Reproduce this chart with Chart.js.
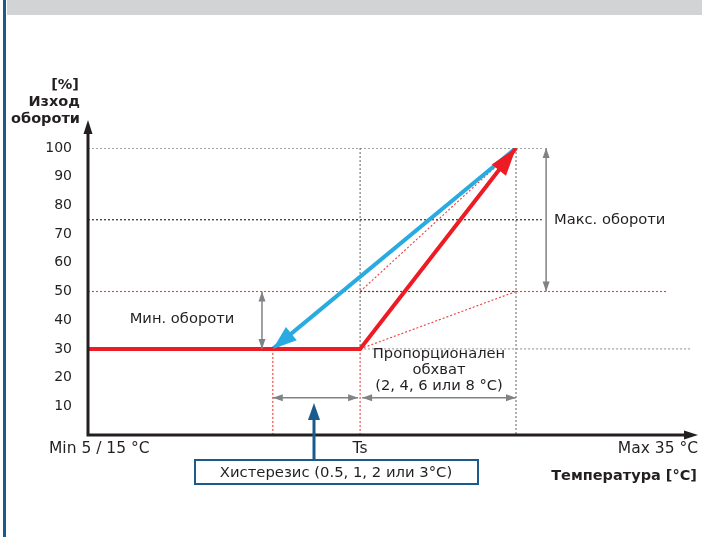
<!DOCTYPE html>
<html>
<head>
<meta charset="utf-8">
<script src="https://cdn.jsdelivr.net/npm/chart.js@4.4.1/dist/chart.umd.min.js"></script>
<style>
  html, body { margin: 0; padding: 0; background: #fff; }
  #wrap { position: relative; width: 702px; height: 537px; }
</style>
</head>
<body>
<div id="wrap"><canvas id="chart" width="702" height="537"></canvas></div>
<script>
// x positions are in "temperature position" units, 0 = Min, 100 = Max
const hystStart = 30.7;
const setpoint = 45.2;
const propEnd = 71.1;
const yTicks = [10, 20, 30, 40, 50, 60, 70, 80, 90, 100];
const speedMin = 30;
const speedMid = 50;
const speedRef = 75;
const speedMax = 100;

const risingX = [0, setpoint, propEnd];
const risingY = [speedMin, speedMin, speedMax];
const fallingX = [propEnd, hystStart];
const fallingY = [speedMax, speedMin];

const xLabels = ['Min 5 / 15 °C', 'Ts', 'Max 35 °C'];
const yTitle = ['[%]', 'Изход', 'обороти'];
const xTitle = 'Температура [°C]';
const minText = 'Мин. обороти';
const maxText = 'Макс. обороти';
const propText = ['Пропорционален', 'обхват', '(2, 4, 6 или 8 °C)'];
const hystText = 'Хистерезис (0.5, 1, 2 или 3°C)';

const pts = (xs, ys) => xs.map((x, i) => ({ x: x, y: ys[i] }));

const RED = '#ed1c24';
const BLUE = '#29abe2';
const DARK = '#231f20';
const GREY = '#808285';
const PINK = '#ef3b3b';
const FRAME = '#1b5a8c';
const FONT = '"DejaVu Sans", Verdana, sans-serif';

function guide(data, color, order) {
  return {
    data: data, showLine: true, borderColor: color, borderWidth: 1.1,
    borderDash: [2, 2], pointRadius: 0, order: order, fill: false
  };
}

const datasets = [
  { data: pts(risingX, risingY), showLine: true, borderColor: RED, borderWidth: 4,
    pointRadius: 0, order: 0, borderJoinStyle: 'miter' },
  { data: pts(fallingX, fallingY), showLine: true, borderColor: BLUE, borderWidth: 4,
    pointRadius: 0, order: 1 },
  guide([{ x: 0, y: speedMax }, { x: 75.4, y: speedMax }], '#58595b', 3),
  guide([{ x: 0, y: speedRef }, { x: 75.4, y: speedRef }], DARK, 3),
  guide([{ x: 0, y: speedMid }, { x: 96.3, y: speedMid }], PINK, 4),
  guide([{ x: setpoint, y: speedMid }, { x: propEnd, y: speedMid }], '#414042', 2),
  guide([{ x: setpoint, y: speedMin }, { x: 100.8, y: speedMin }], '#939598', 3),
  guide([{ x: setpoint, y: speedMax }, { x: setpoint, y: speedMin }], '#6d6e71', 3),
  guide([{ x: setpoint, y: speedMin }, { x: setpoint, y: 0 }], PINK, 3),
  guide([{ x: hystStart, y: speedMin }, { x: hystStart, y: 0 }], PINK, 3),
  guide([{ x: propEnd, y: speedMax }, { x: propEnd, y: 0 }], '#6d6e71', 3),
  guide([{ x: setpoint, y: speedMid }, { x: propEnd, y: speedMax }], PINK, 2),
  guide([{ x: setpoint, y: speedMin }, { x: propEnd, y: speedMid }], PINK, 2)
];

function head(ctx, x1, y1, x2, y2, len, half, color) {
  const a = Math.atan2(y2 - y1, x2 - x1);
  ctx.save();
  ctx.fillStyle = color;
  ctx.beginPath();
  ctx.moveTo(x2, y2);
  ctx.lineTo(x2 - len * Math.cos(a) + half * Math.sin(a), y2 - len * Math.sin(a) - half * Math.cos(a));
  ctx.lineTo(x2 - len * Math.cos(a) - half * Math.sin(a), y2 - len * Math.sin(a) + half * Math.cos(a));
  ctx.closePath();
  ctx.fill();
  ctx.restore();
}

function dimArrow(ctx, x1, y1, x2, y2) {
  ctx.save();
  ctx.strokeStyle = GREY;
  ctx.lineWidth = 1.5;
  ctx.beginPath();
  ctx.moveTo(x1, y1);
  ctx.lineTo(x2, y2);
  ctx.stroke();
  ctx.restore();
  head(ctx, x1, y1, x2, y2, 10, 3.5, GREY);
  head(ctx, x2, y2, x1, y1, 10, 3.5, GREY);
}

const decor = {
  id: 'decor',
  beforeDraw(chart) {
    const ctx = chart.ctx;
    ctx.save();
    ctx.fillStyle = '#d1d3d4';
    ctx.fillRect(7, 0, 695, 15);
    ctx.fillStyle = FRAME;
    ctx.fillRect(3, 0, 3, 537);
    ctx.restore();
  },
  afterDatasetsDraw(chart) {
    const ctx = chart.ctx;
    const xs = chart.scales.x, ys = chart.scales.y;
    const X = v => xs.getPixelForValue(v), Y = v => ys.getPixelForValue(v);

    // arrowheads of the curves
    head(ctx, X(fallingX[0]), Y(fallingY[0]), X(fallingX[1]), Y(fallingY[1]), 24, 8.5, BLUE);
    head(ctx, X(risingX[1]), Y(risingY[1]), X(risingX[2]), Y(risingY[2]), 28, 9, RED);

    // axes
    const x0 = X(0), y0 = Y(0);
    ctx.save();
    ctx.strokeStyle = DARK;
    ctx.lineWidth = 3;
    ctx.beginPath();
    ctx.moveTo(x0, y0);
    ctx.lineTo(x0, 130);
    ctx.moveTo(x0 - 1.5, y0);
    ctx.lineTo(688, y0);
    ctx.stroke();
    ctx.restore();
    head(ctx, x0, y0, x0, 120, 14, 4.5, DARK);
    head(ctx, x0, y0, 698, y0, 14, 4.5, DARK);

    // dimension arrows
    dimArrow(ctx, X(28.9), Y(speedMid), X(28.9), Y(speedMin));
    dimArrow(ctx, X(76.1), Y(speedMax), X(76.1), Y(speedMid));
    dimArrow(ctx, X(hystStart), Y(13), X(setpoint) - 2, Y(13));
    dimArrow(ctx, X(setpoint) + 2, Y(13), X(propEnd), Y(13));

    // texts
    ctx.save();
    ctx.fillStyle = DARK;
    ctx.textBaseline = 'middle';
    ctx.font = '14.7px ' + FONT;
    ctx.textAlign = 'center';
    ctx.fillText(minText, 182, Y(40.5));
    ctx.fillText(propText[0], 439, 354);
    ctx.fillText(propText[1], 439, 370);
    ctx.fillText(propText[2], 439, 386);
    ctx.font = '15.5px ' + FONT;
    ctx.fillText(xLabels[1], X(setpoint), 449);
    ctx.textAlign = 'left';
    ctx.fillText(xLabels[0], 49, 449);
    ctx.font = '14.7px ' + FONT;
    ctx.fillText(maxText, 554, Y(speedRef));
    ctx.font = '15.5px ' + FONT;
    ctx.textAlign = 'right';
    ctx.fillText(xLabels[2], 698, 449);
    ctx.font = 'bold 14.5px ' + FONT;
    ctx.fillText(xTitle, 697, 476);
    ctx.fillText(yTitle[0], 79, 85);
    ctx.fillText(yTitle[1], 80, 102);
    ctx.fillText(yTitle[2], 80, 119);

    // hysteresis callout
    const cx = 314;
    ctx.strokeStyle = FRAME;
    ctx.lineWidth = 3;
    ctx.beginPath();
    ctx.moveTo(cx, 460);
    ctx.lineTo(cx, 418);
    ctx.stroke();
    ctx.lineWidth = 2;
    ctx.strokeRect(195, 460, 283, 24);
    ctx.restore();
    head(ctx, cx, 460, cx, 403, 17, 6, FRAME);
    ctx.save();
    ctx.fillStyle = DARK;
    ctx.font = '14.8px ' + FONT;
    ctx.textAlign = 'center';
    ctx.textBaseline = 'middle';
    ctx.fillText(hystText, 336, 473);
    ctx.restore();
  }
};

new Chart(document.getElementById('chart'), {
  type: 'scatter',
  data: { datasets: datasets },
  options: {
    responsive: false,
    animation: false,
    layout: { padding: { top: 148, right: 12, bottom: 102, left: 0 } },
    plugins: { legend: { display: false }, tooltip: { enabled: false } },
    scales: {
      x: { type: 'linear', min: 0, max: 100, display: false },
      y: {
        type: 'linear', min: 0, max: 100,
        afterFit(scale) { scale.width = 88; },
        afterBuildTicks(scale) { scale.ticks = yTicks.map(v => ({ value: v })); },
        grid: { display: false, drawTicks: false },
        border: { display: false },
        ticks: { padding: 16, color: DARK, font: { family: FONT, size: 14 } }
      }
    }
  },
  plugins: [decor]
});
</script>
</body>
</html>
